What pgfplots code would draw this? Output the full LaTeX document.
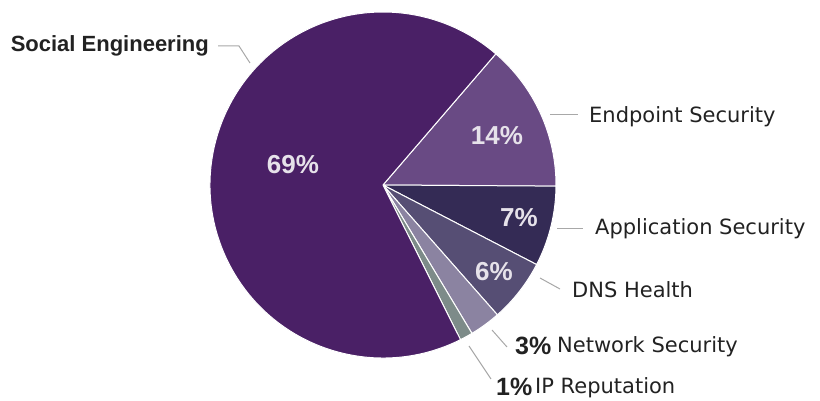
\documentclass[border=0pt]{standalone}
\usepackage{pgfplots}
\pgfplotsset{compat=1.18}
\usepackage{fontspec}
\setmainfont{Liberation Sans}
\newfontfamily\lab{DejaVu Sans}
\definecolor{cSoc}{HTML}{4A2066}
\definecolor{cEnd}{HTML}{694A84}
\definecolor{cApp}{HTML}{342B55}
\definecolor{cDNS}{HTML}{564E74}
\definecolor{cNet}{HTML}{8B83A1}
\definecolor{cIP}{HTML}{7D8B89}
\definecolor{cTxt}{HTML}{222222}
\definecolor{cPct}{HTML}{E6E2EA}
\definecolor{cLine}{HTML}{A8A8A8}
% slice: #1 cumulative percent before, #2 percent value, #3 colour
\newcommand{\slice}[3]{%
  \fill[#3, draw=white, line width=1pt, line join=round]
    (axis cs:383,216) -- ++({49.3-3.6*#1}:173pt)
    arc[start angle={49.3-3.6*#1}, end angle={49.3-3.6*(#1+#2)}, radius=173pt] -- cycle;}
\begin{document}
\begin{tikzpicture}[x=1pt,y=1pt]
\useasboundingbox (0,0) rectangle (820,401);
\begin{axis}[at={(0,0)}, anchor=south west, x=1pt, y=1pt,
  xmin=0, xmax=820, ymin=0, ymax=401, axis lines=none, clip=false]
% values (percent): Endpoint 13.8, Application 7.5, DNS 5.9, Network 2.9, IP 1.2, Social 68.7
\slice{0}{13.8}{cEnd}
\slice{13.8}{7.5}{cApp}
\slice{21.3}{5.9}{cDNS}
\slice{27.2}{2.9}{cNet}
\slice{30.1}{1.2}{cIP}
\slice{31.3}{68.7}{cSoc}
% in-slice labels
\node[cPct, font=\bfseries\fontsize{26}{28}\selectfont] at (axis cs:293,236) {69\%};
\node[cPct, font=\bfseries\fontsize{26}{28}\selectfont] at (axis cs:497,265) {14\%};
\node[cPct, font=\bfseries\fontsize{26}{28}\selectfont] at (axis cs:519,183) {7\%};
\node[cPct, font=\bfseries\fontsize{26}{28}\selectfont] at (axis cs:494,129) {6\%};
% leader lines
\draw[cLine, line width=1pt] (axis cs:218,355) -- (axis cs:239,355) -- (axis cs:250,338);
\draw[cLine, line width=1pt] (axis cs:550,286) -- (axis cs:578,286);
\draw[cLine, line width=1pt] (axis cs:557,172) -- (axis cs:583,172);
\draw[cLine, line width=1pt] (axis cs:540,123) -- (axis cs:560,112);
\draw[cLine, line width=1pt] (axis cs:492,71) -- (axis cs:507,54);
\draw[cLine, line width=1pt] (axis cs:469,55) -- (axis cs:491,22);
% outer labels
\node[cTxt, anchor=east, inner sep=0pt, font=\bfseries\fontsize{22}{24}\selectfont] at (axis cs:209,355) {Social Engineering};
\node[cTxt, anchor=west, inner sep=0pt, font=\lab\fontsize{21}{23}\selectfont] at (axis cs:589,284) {Endpoint Security};
\node[cTxt, anchor=west, inner sep=0pt, font=\lab\fontsize{21}{23}\selectfont] at (axis cs:595,172) {Application Security};
\node[cTxt, anchor=west, inner sep=0pt, font=\lab\fontsize{21}{23}\selectfont] at (axis cs:572,111) {DNS Health};
\node[cTxt, anchor=west, inner sep=0pt, font=\bfseries\fontsize{25}{27}\selectfont] at (axis cs:515,55) {3\%};
\node[cTxt, anchor=west, inner sep=0pt, font=\lab\fontsize{21}{23}\selectfont] at (axis cs:557,54) {Network Security};
\node[cTxt, anchor=west, inner sep=0pt, font=\bfseries\fontsize{25}{27}\selectfont] at (axis cs:496,14) {1\%};
\node[cTxt, anchor=west, inner sep=0pt, font=\lab\fontsize{21}{23}\selectfont] at (axis cs:535,13) {IP Reputation};
\end{axis}
\end{tikzpicture}
\end{document}
